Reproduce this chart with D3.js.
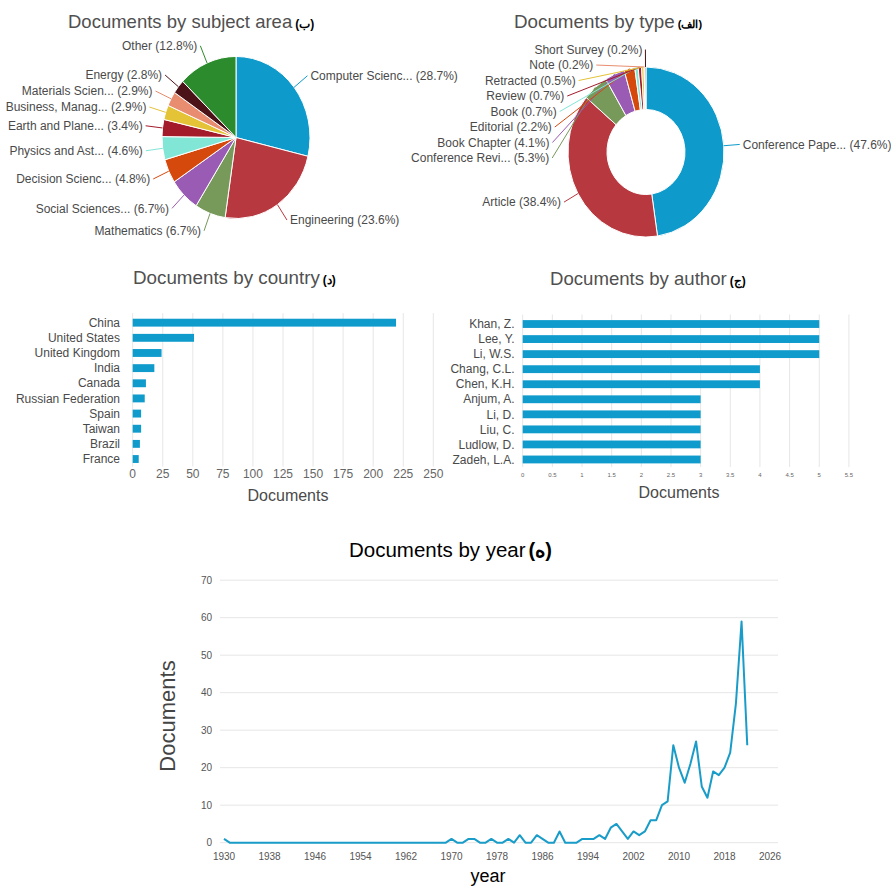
<!DOCTYPE html>
<html>
<head>
<meta charset="utf-8">
<script src="https://cdn.jsdelivr.net/npm/d3@7"></script>
<style>
body { margin: 0; background: #fff; }
text { font-family: "Liberation Sans", Arial, sans-serif; }
</style>
</head>
<body>
<script>
const W = 891, H = 886;

// Documents by subject area
const subjectNames = ["Computer Scienc...", "Engineering", "Mathematics", "Social Sciences...", "Decision Scienc...",
    "Physics and Ast...", "Earth and Plane...", "Business, Manag...", "Materials Scien...", "Energy", "Other"];
const subjectShares = [28.7, 23.6, 6.7, 6.7, 4.8, 4.6, 3.4, 2.9, 2.9, 2.8, 12.8];

// Documents by type
const typeNames = ["Conference Pape...", "Article", "Conference Revi...", "Book Chapter", "Editorial",
    "Book", "Review", "Retracted", "Note", "Short Survey"];
const typeShares = [47.6, 38.4, 5.3, 4.1, 2.2, 0.7, 0.7, 0.5, 0.2, 0.2];

// Documents by country
const countries = ["China", "United States", "United Kingdom", "India", "Canada",
    "Russian Federation", "Spain", "Taiwan", "Brazil", "France"];
const countryDocs = [219, 51, 24, 18, 11, 10, 7, 7, 6, 5];
const countryTicks = [0, 25, 50, 75, 100, 125, 150, 175, 200, 225, 250];

// Documents by author
const authors = ["Khan, Z.", "Lee, Y.", "Li, W.S.", "Chang, C.L.", "Chen, K.H.",
    "Anjum, A.", "Li, D.", "Liu, C.", "Ludlow, D.", "Zadeh, L.A."];
const authorDocs = [5, 5, 5, 4, 4, 3, 3, 3, 3, 3];
const authorTicks = [0, 0.5, 1, 1.5, 2, 2.5, 3, 3.5, 4, 4.5, 5, 5.5];

// Documents by year
const years = [1930, 1931, 1932, 1933, 1934, 1935, 1936, 1937, 1938, 1939,
    1940, 1941, 1942, 1943, 1944, 1945, 1946, 1947, 1948, 1949,
    1950, 1951, 1952, 1953, 1954, 1955, 1956, 1957, 1958, 1959,
    1960, 1961, 1962, 1963, 1964, 1965, 1966, 1967, 1968, 1969,
    1970, 1971, 1972, 1973, 1974, 1975, 1976, 1977, 1978, 1979,
    1980, 1981, 1982, 1983, 1984, 1985, 1986, 1987, 1988, 1989,
    1990, 1991, 1992, 1993, 1994, 1995, 1996, 1997, 1998, 1999,
    2000, 2001, 2002, 2003, 2004, 2005, 2006, 2007, 2008, 2009,
    2010, 2011, 2012, 2013, 2014, 2015, 2016, 2017, 2018, 2019,
    2020, 2021, 2022];
const yearDocs = [1, 0, 0, 0, 0, 0, 0, 0, 0, 0,
    0, 0, 0, 0, 0, 0, 0, 0, 0, 0,
    0, 0, 0, 0, 0, 0, 0, 0, 0, 0,
    0, 0, 0, 0, 0, 0, 0, 0, 0, 0,
    1, 0, 0, 1, 1, 0, 0, 1, 0, 0,
    1, 0, 2, 0, 0, 2, 1, 0, 0, 3,
    0, 0, 0, 1, 1, 1, 2, 1, 4, 5,
    3, 1, 3, 2, 3, 6, 6, 10, 11, 26,
    20, 16, 21, 27, 15, 12, 19, 18, 20, 24,
    37, 59, 26];
const yearTicks = [1930, 1938, 1946, 1954, 1962, 1970, 1978, 1986, 1994, 2002, 2010, 2018, 2026];
const docTicks = [0, 10, 20, 30, 40, 50, 60, 70];

const palette = ["#0e9bcb", "#b8383f", "#77995a", "#9a5bb4", "#d5490d", "#82e6d6",
    "#a31b2b", "#e4c337", "#e88d6f", "#4b1318", "#2c8b2c"];
const barColor = "#0f9bcc";
const grid = "#e6e6e6";
const labelColor = "#4a4a4a";

const svg = d3.select("body").append("svg").attr("width", W).attr("height", H);

////  Titles  ////
function title(x, y, main, tag, size, color, tagSize) {
    const t = svg.append("text").attr("x", x).attr("y", y)
        .attr("font-size", size).attr("fill", color).text(main);
    t.append("tspan").attr("dx", 3).attr("font-size", tagSize).attr("font-weight", "bold")
        .attr("fill", "#000").text(tag);
}
title(68, 28, "Documents by subject area", "(ب)", "18.5px", "#505050", "12px");
title(514, 28, "Documents by type", "(الف)", "18.8px", "#505050", "11px");
title(133, 284, "Documents by country", "(د)", "18.8px", "#505050", "12px");
title(550, 285, "Documents by author", "(ج)", "18.6px", "#505050", "12px");
title(349, 557, "Documents by year", "(ه)", "20.5px", "#000", "20px");

////  Pies  ////
function drawPie(o) {
    const arcs = d3.pie().sort(null).value(d => d)(o.shares);
    const arc = d3.arc().innerRadius(o.inner).outerRadius(o.r);
    const g = svg.append("g").attr("transform", `translate(${o.cx},${o.cy})`);
    g.append("g").attr("transform", `scale(1,${o.sy})`)
        .selectAll("path").data(arcs).join("path")
        .attr("d", arc)
        .attr("fill", (d, i) => palette[i])
        .attr("stroke", "#fff")
        .attr("stroke-width", 1)
        .attr("vector-effect", "non-scaling-stroke");

    // label placement: natural position on a circle, then pushed apart per side
    const items = arcs.map((a, i) => {
        const m = (a.startAngle + a.endAngle) / 2;
        return {i, m, side: Math.sin(m) >= 0 ? 1 : -1, y: -Math.cos(m) * o.labelR * o.sy};
    });
    [1, -1].forEach(s => {
        const list = items.filter(d => d.side === s).sort((a, b) => a.y - b.y);
        for (let k = 1; k < list.length; k++) list[k].y = Math.max(list[k].y, list[k - 1].y + o.step);
    });
    items.forEach(d => {
        const yu = Math.max(-o.labelR, Math.min(o.labelR, d.y / o.sy));
        d.x = d.side * Math.sqrt(o.labelR * o.labelR - yu * yu);
    });

    g.selectAll("line.conn").data(items).join("line")
        .attr("class", "conn")
        .attr("x1", d => Math.sin(d.m) * o.r)
        .attr("y1", d => -Math.cos(d.m) * o.r * o.sy)
        .attr("x2", d => d.x)
        .attr("y2", d => d.y)
        .attr("stroke", d => palette[d.i])
        .attr("stroke-width", 1);

    g.selectAll("text.lbl").data(items).join("text")
        .attr("class", "lbl")
        .attr("x", d => d.x + d.side * 3)
        .attr("y", d => d.y)
        .attr("dy", "0.35em")
        .attr("text-anchor", d => d.side > 0 ? "start" : "end")
        .attr("font-size", "12px")
        .attr("fill", labelColor)
        .text(d => `${o.names[d.i]} (${o.shares[d.i]}%)`);
}

drawPie({names: subjectNames, shares: subjectShares, cx: 236, cy: 137.5, r: 74, inner: 0,
    sy: 1.095, labelR: 91, step: 16});
drawPie({names: typeNames, shares: typeShares, cx: 646, cy: 152, r: 78, inner: 39,
    sy: 1.09, labelR: 94, step: 15.5});

////  Horizontal bars  ////
function drawBars(o) {
    const x = d3.scaleLinear().domain([0, o.ticks[o.ticks.length - 1]]).range(o.xr);
    const y = d3.scaleBand().domain(o.cats).range(o.yr).paddingInner(0.48).paddingOuter(0.24);
    const g = svg.append("g");

    g.selectAll("line.grid").data(o.ticks).join("line")
        .attr("class", "grid")
        .attr("x1", d => x(d)).attr("x2", d => x(d))
        .attr("y1", o.yr[0] - 2).attr("y2", o.yr[1])
        .attr("stroke", grid).attr("stroke-width", 1);

    g.selectAll("rect").data(o.values).join("rect")
        .attr("x", x(0))
        .attr("y", (d, i) => y(o.cats[i]))
        .attr("width", d => x(d) - x(0))
        .attr("height", y.bandwidth())
        .attr("fill", barColor);

    g.selectAll("text.cat").data(o.cats).join("text")
        .attr("class", "cat")
        .attr("x", o.labelX)
        .attr("y", d => y(d) + y.bandwidth() / 2)
        .attr("dy", "0.35em")
        .attr("text-anchor", "end")
        .attr("font-size", "12px")
        .attr("fill", labelColor)
        .text(d => d);

    g.selectAll("text.tick").data(o.ticks).join("text")
        .attr("class", "tick")
        .attr("x", d => x(d))
        .attr("y", o.tickY)
        .attr("text-anchor", "middle")
        .attr("font-size", o.tickSize)
        .attr("fill", "#666")
        .text(d => d);

    g.append("text")
        .attr("x", o.titleX).attr("y", o.titleY)
        .attr("text-anchor", "middle")
        .attr("font-size", "16px")
        .attr("fill", labelColor)
        .text("Documents");
}

drawBars({cats: countries, values: countryDocs, ticks: countryTicks, xr: [132.7, 433.3], yr: [315.1, 466.6],
    labelX: 120, tickY: 477.5, tickSize: "12px", titleX: 288, titleY: 501});
drawBars({cats: authors, values: authorDocs, ticks: authorTicks, xr: [522.7, 848.9], yr: [316.5, 467],
    labelX: 514.5, tickY: 477, tickSize: "6px", titleX: 679, titleY: 498});

////  Line by year  ////
const xY = d3.scaleLinear().domain([1930, 2026]).range([224, 770]);
const yY = d3.scaleLinear().domain([0, 70]).range([842.7, 580.2]);
const gy = svg.append("g");

gy.selectAll("line.grid").data(docTicks).join("line")
    .attr("class", "grid")
    .attr("x1", 220).attr("x2", 778)
    .attr("y1", d => yY(d)).attr("y2", d => yY(d))
    .attr("stroke", grid).attr("stroke-width", 1);

gy.selectAll("text.ytick").data(docTicks).join("text")
    .attr("class", "ytick")
    .attr("x", 212)
    .attr("y", d => yY(d))
    .attr("dy", "0.35em")
    .attr("text-anchor", "end")
    .attr("font-size", "10px")
    .attr("fill", "#555")
    .text(d => d);

gy.selectAll("text.xtick").data(yearTicks).join("text")
    .attr("class", "xtick")
    .attr("x", d => xY(d))
    .attr("y", 860)
    .attr("text-anchor", "middle")
    .attr("font-size", "10px")
    .attr("fill", "#555")
    .text(d => d);

const line = d3.line().x((d, i) => xY(years[i])).y(d => yY(d));
gy.append("path")
    .attr("d", line(yearDocs))
    .attr("fill", "none")
    .attr("stroke", "#1a9cc8")
    .attr("stroke-width", 2)
    .attr("stroke-linejoin", "round");

gy.append("text")
    .attr("transform", "translate(175,716) rotate(-90)")
    .attr("text-anchor", "middle")
    .attr("font-size", "22px")
    .attr("fill", "#444")
    .text("Documents");

gy.append("text")
    .attr("x", 488).attr("y", 882)
    .attr("text-anchor", "middle")
    .attr("font-size", "18px")
    .attr("fill", "#000")
    .text("year");
</script>
</body>
</html>
